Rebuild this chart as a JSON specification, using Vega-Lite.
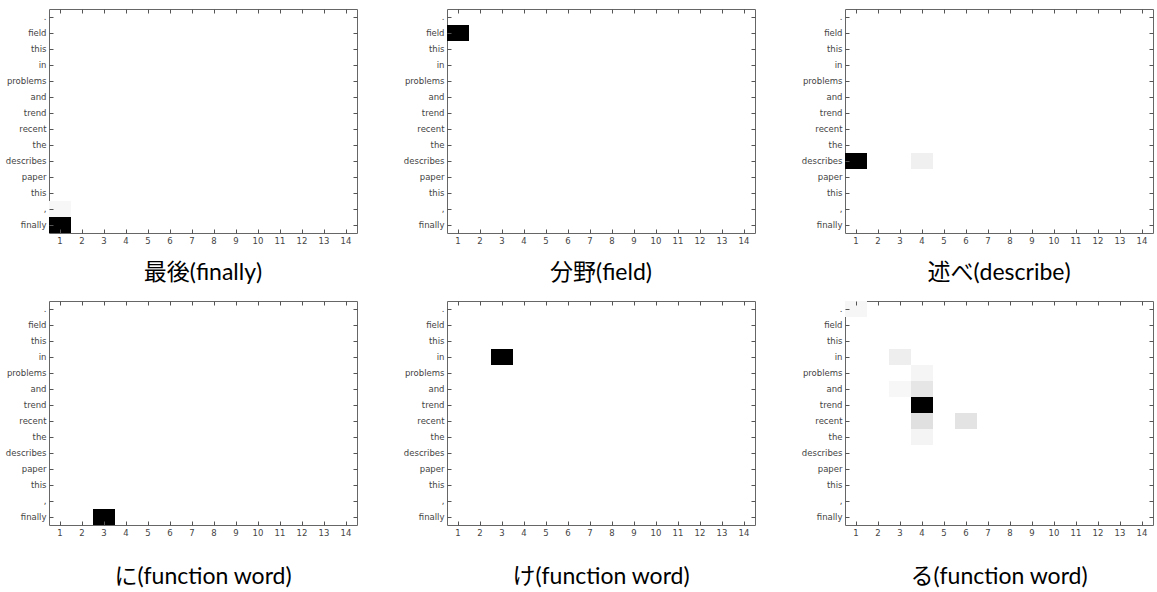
{
  "$schema": "https://vega.github.io/schema/vega-lite/v6.json",
  "padding": {"left": 4, "top": 8, "right": 0, "bottom": 0},
  "background": "white",
  "bounds": "flush",
  "columns": 3,
  "spacing": {"row": 68, "column": 90},
  "config": {
    "view": {"stroke": "#666666", "strokeWidth": 1},
    "axis": {"labelFont": "DejaVu Sans", "labelFontSize": 8.5, "labelColor": "#444444", "tickColor": "#555555", "tickSize": -4, "labelPadding": 7, "domain": false, "grid": false, "labelAngle": 0},
    "title": {"font": "Lato, Noto Sans CJK JP", "fontSize": 23, "fontWeight": "normal", "orient": "bottom", "offset": 14, "color": "#000000", "anchor": "middle"},
    "scale": {"bandPaddingInner": 0, "bandPaddingOuter": 0}
  },
  "datasets": {
    "finally": [
      {"col": 1, "pos": 13, "word": "finally", "v": 1.0},
      {"col": 1, "pos": 12, "word": ",", "v": 0.03}
    ],
    "field": [
      {"col": 1, "pos": 1, "word": "field", "v": 1.0}
    ],
    "describe": [
      {"col": 1, "pos": 9, "word": "describes", "v": 1.0},
      {"col": 4, "pos": 9, "word": "describes", "v": 0.06}
    ],
    "ni": [
      {"col": 3, "pos": 13, "word": "finally", "v": 1.0}
    ],
    "ke": [
      {"col": 3, "pos": 3, "word": "in", "v": 1.0}
    ],
    "ru": [
      {"col": 1, "pos": 0, "word": ".", "v": 0.035},
      {"col": 3, "pos": 3, "word": "in", "v": 0.065},
      {"col": 4, "pos": 4, "word": "problems", "v": 0.04},
      {"col": 3, "pos": 5, "word": "and", "v": 0.03},
      {"col": 4, "pos": 5, "word": "and", "v": 0.1},
      {"col": 4, "pos": 6, "word": "trend", "v": 1.0},
      {"col": 4, "pos": 7, "word": "recent", "v": 0.12},
      {"col": 6, "pos": 7, "word": "recent", "v": 0.11},
      {"col": 4, "pos": 8, "word": "the", "v": 0.045}
    ]
  },
  "concat": [
    {
      "width": 308, "height": 224,
      "title": {"text": "最後(finally)", "offset": 17},
      "data": {"name": "finally"},
      "resolve": {"axis": {"x": "independent", "y": "independent"}},
      "layer": [
        {"mark": "rect", "encoding": {
          "x": {"field": "col", "type": "ordinal", "scale": {"domain": [1,2,3,4,5,6,7,8,9,10,11,12,13,14]}, "axis": {"title": null}},
          "y": {"field": "pos", "type": "ordinal", "scale": {"domain": [0,1,2,3,4,5,6,7,8,9,10,11,12,13]}, "axis": {"title": null, "labelExpr": "['.', 'field', 'this', 'in', 'problems', 'and', 'trend', 'recent', 'the', 'describes', 'paper', 'this', ',', 'finally'][datum.value]"}},
          "color": {"field": "v", "type": "quantitative", "scale": {"domain": [0, 1], "range": ["#ffffff", "#000000"], "interpolate": "rgb"}, "legend": null}
        }},
        {"mark": {"type": "rect", "opacity": 0}, "encoding": {
          "x": {"field": "col", "type": "ordinal", "axis": {"title": null, "orient": "top", "labels": false, "minExtent": 0, "maxExtent": 0}},
          "y": {"field": "pos", "type": "ordinal", "axis": {"title": null, "orient": "right", "labels": false, "minExtent": 0, "maxExtent": 0}}
        }}
      ]
    },
    {
      "width": 308, "height": 224,
      "title": {"text": "分野(field)", "offset": 17},
      "data": {"name": "field"},
      "resolve": {"axis": {"x": "independent", "y": "independent"}},
      "layer": [
        {"mark": "rect", "encoding": {
          "x": {"field": "col", "type": "ordinal", "scale": {"domain": [1,2,3,4,5,6,7,8,9,10,11,12,13,14]}, "axis": {"title": null}},
          "y": {"field": "pos", "type": "ordinal", "scale": {"domain": [0,1,2,3,4,5,6,7,8,9,10,11,12,13]}, "axis": {"title": null, "labelExpr": "['.', 'field', 'this', 'in', 'problems', 'and', 'trend', 'recent', 'the', 'describes', 'paper', 'this', ',', 'finally'][datum.value]"}},
          "color": {"field": "v", "type": "quantitative", "scale": {"domain": [0, 1], "range": ["#ffffff", "#000000"], "interpolate": "rgb"}, "legend": null}
        }},
        {"mark": {"type": "rect", "opacity": 0}, "encoding": {
          "x": {"field": "col", "type": "ordinal", "axis": {"title": null, "orient": "top", "labels": false, "minExtent": 0, "maxExtent": 0}},
          "y": {"field": "pos", "type": "ordinal", "axis": {"title": null, "orient": "right", "labels": false, "minExtent": 0, "maxExtent": 0}}
        }}
      ]
    },
    {
      "width": 308, "height": 224,
      "title": {"text": "述べ(describe)", "offset": 17},
      "data": {"name": "describe"},
      "resolve": {"axis": {"x": "independent", "y": "independent"}},
      "layer": [
        {"mark": "rect", "encoding": {
          "x": {"field": "col", "type": "ordinal", "scale": {"domain": [1,2,3,4,5,6,7,8,9,10,11,12,13,14]}, "axis": {"title": null}},
          "y": {"field": "pos", "type": "ordinal", "scale": {"domain": [0,1,2,3,4,5,6,7,8,9,10,11,12,13]}, "axis": {"title": null, "labelExpr": "['.', 'field', 'this', 'in', 'problems', 'and', 'trend', 'recent', 'the', 'describes', 'paper', 'this', ',', 'finally'][datum.value]"}},
          "color": {"field": "v", "type": "quantitative", "scale": {"domain": [0, 1], "range": ["#ffffff", "#000000"], "interpolate": "rgb"}, "legend": null}
        }},
        {"mark": {"type": "rect", "opacity": 0}, "encoding": {
          "x": {"field": "col", "type": "ordinal", "axis": {"title": null, "orient": "top", "labels": false, "minExtent": 0, "maxExtent": 0}},
          "y": {"field": "pos", "type": "ordinal", "axis": {"title": null, "orient": "right", "labels": false, "minExtent": 0, "maxExtent": 0}}
        }}
      ]
    },
    {
      "width": 308, "height": 224,
      "title": {"text": "に(function word)", "offset": 29},
      "data": {"name": "ni"},
      "resolve": {"axis": {"x": "independent", "y": "independent"}},
      "layer": [
        {"mark": "rect", "encoding": {
          "x": {"field": "col", "type": "ordinal", "scale": {"domain": [1,2,3,4,5,6,7,8,9,10,11,12,13,14]}, "axis": {"title": null}},
          "y": {"field": "pos", "type": "ordinal", "scale": {"domain": [0,1,2,3,4,5,6,7,8,9,10,11,12,13]}, "axis": {"title": null, "labelExpr": "['.', 'field', 'this', 'in', 'problems', 'and', 'trend', 'recent', 'the', 'describes', 'paper', 'this', ',', 'finally'][datum.value]"}},
          "color": {"field": "v", "type": "quantitative", "scale": {"domain": [0, 1], "range": ["#ffffff", "#000000"], "interpolate": "rgb"}, "legend": null}
        }},
        {"mark": {"type": "rect", "opacity": 0}, "encoding": {
          "x": {"field": "col", "type": "ordinal", "axis": {"title": null, "orient": "top", "labels": false, "minExtent": 0, "maxExtent": 0}},
          "y": {"field": "pos", "type": "ordinal", "axis": {"title": null, "orient": "right", "labels": false, "minExtent": 0, "maxExtent": 0}}
        }}
      ]
    },
    {
      "width": 308, "height": 224,
      "title": {"text": "け(function word)", "offset": 29},
      "data": {"name": "ke"},
      "resolve": {"axis": {"x": "independent", "y": "independent"}},
      "layer": [
        {"mark": "rect", "encoding": {
          "x": {"field": "col", "type": "ordinal", "scale": {"domain": [1,2,3,4,5,6,7,8,9,10,11,12,13,14]}, "axis": {"title": null}},
          "y": {"field": "pos", "type": "ordinal", "scale": {"domain": [0,1,2,3,4,5,6,7,8,9,10,11,12,13]}, "axis": {"title": null, "labelExpr": "['.', 'field', 'this', 'in', 'problems', 'and', 'trend', 'recent', 'the', 'describes', 'paper', 'this', ',', 'finally'][datum.value]"}},
          "color": {"field": "v", "type": "quantitative", "scale": {"domain": [0, 1], "range": ["#ffffff", "#000000"], "interpolate": "rgb"}, "legend": null}
        }},
        {"mark": {"type": "rect", "opacity": 0}, "encoding": {
          "x": {"field": "col", "type": "ordinal", "axis": {"title": null, "orient": "top", "labels": false, "minExtent": 0, "maxExtent": 0}},
          "y": {"field": "pos", "type": "ordinal", "axis": {"title": null, "orient": "right", "labels": false, "minExtent": 0, "maxExtent": 0}}
        }}
      ]
    },
    {
      "width": 308, "height": 224,
      "title": {"text": "る(function word)", "offset": 29},
      "data": {"name": "ru"},
      "resolve": {"axis": {"x": "independent", "y": "independent"}},
      "layer": [
        {"mark": "rect", "encoding": {
          "x": {"field": "col", "type": "ordinal", "scale": {"domain": [1,2,3,4,5,6,7,8,9,10,11,12,13,14]}, "axis": {"title": null}},
          "y": {"field": "pos", "type": "ordinal", "scale": {"domain": [0,1,2,3,4,5,6,7,8,9,10,11,12,13]}, "axis": {"title": null, "labelExpr": "['.', 'field', 'this', 'in', 'problems', 'and', 'trend', 'recent', 'the', 'describes', 'paper', 'this', ',', 'finally'][datum.value]"}},
          "color": {"field": "v", "type": "quantitative", "scale": {"domain": [0, 1], "range": ["#ffffff", "#000000"], "interpolate": "rgb"}, "legend": null}
        }},
        {"mark": {"type": "rect", "opacity": 0}, "encoding": {
          "x": {"field": "col", "type": "ordinal", "axis": {"title": null, "orient": "top", "labels": false, "minExtent": 0, "maxExtent": 0}},
          "y": {"field": "pos", "type": "ordinal", "axis": {"title": null, "orient": "right", "labels": false, "minExtent": 0, "maxExtent": 0}}
        }}
      ]
    }
  ]
}
